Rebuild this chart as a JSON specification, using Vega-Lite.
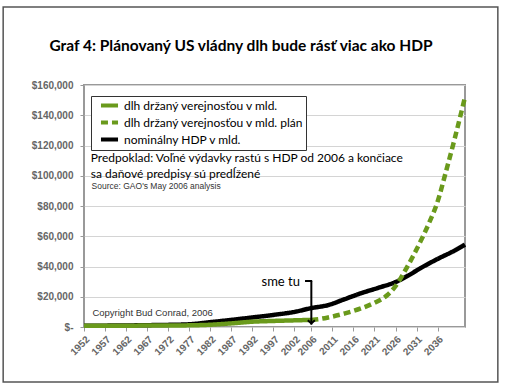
{
  "$schema": "https://vega.github.io/schema/vega-lite/v6.json",
  "width": 381,
  "height": 242,
  "autosize": {"type": "none"},
  "padding": {"left": 84, "top": 85, "right": 41, "bottom": 58},
  "background": "white",
  "datasets": {
    "lines": [
      {"series": "nominálny HDP v mld.", "year": 1952, "value": 800},
      {"series": "nominálny HDP v mld.", "year": 1957, "value": 900},
      {"series": "nominálny HDP v mld.", "year": 1962, "value": 1000},
      {"series": "nominálny HDP v mld.", "year": 1967, "value": 1200},
      {"series": "nominálny HDP v mld.", "year": 1972, "value": 1400},
      {"series": "nominálny HDP v mld.", "year": 1977, "value": 1800},
      {"series": "nominálny HDP v mld.", "year": 1982, "value": 3200},
      {"series": "nominálny HDP v mld.", "year": 1987, "value": 4700},
      {"series": "nominálny HDP v mld.", "year": 1992, "value": 6300},
      {"series": "nominálny HDP v mld.", "year": 1997, "value": 8000},
      {"series": "nominálny HDP v mld.", "year": 2002, "value": 10000},
      {"series": "nominálny HDP v mld.", "year": 2006, "value": 12500},
      {"series": "nominálny HDP v mld.", "year": 2010, "value": 14500},
      {"series": "nominálny HDP v mld.", "year": 2014, "value": 18500},
      {"series": "nominálny HDP v mld.", "year": 2018, "value": 22500},
      {"series": "nominálny HDP v mld.", "year": 2022, "value": 26000},
      {"series": "nominálny HDP v mld.", "year": 2026, "value": 29700},
      {"series": "nominálny HDP v mld.", "year": 2029, "value": 34000},
      {"series": "nominálny HDP v mld.", "year": 2032, "value": 39000},
      {"series": "nominálny HDP v mld.", "year": 2036, "value": 45000},
      {"series": "nominálny HDP v mld.", "year": 2040, "value": 50500},
      {"series": "nominálny HDP v mld.", "year": 2042.5, "value": 54500},
      {"series": "dlh držaný verejnosťou v mld.", "year": 1952, "value": 900},
      {"series": "dlh držaný verejnosťou v mld.", "year": 1962, "value": 900},
      {"series": "dlh držaný verejnosťou v mld.", "year": 1972, "value": 1000},
      {"series": "dlh držaný verejnosťou v mld.", "year": 1977, "value": 1100},
      {"series": "dlh držaný verejnosťou v mld.", "year": 1982, "value": 1500},
      {"series": "dlh držaný verejnosťou v mld.", "year": 1987, "value": 2400},
      {"series": "dlh držaný verejnosťou v mld.", "year": 1992, "value": 3500},
      {"series": "dlh držaný verejnosťou v mld.", "year": 1997, "value": 4000},
      {"series": "dlh držaný verejnosťou v mld.", "year": 2002, "value": 4400},
      {"series": "dlh držaný verejnosťou v mld.", "year": 2006, "value": 4700},
      {"series": "dlh držaný verejnosťou v mld. plán", "year": 2006, "value": 4700},
      {"series": "dlh držaný verejnosťou v mld. plán", "year": 2008, "value": 5300},
      {"series": "dlh držaný verejnosťou v mld. plán", "year": 2010, "value": 6300},
      {"series": "dlh držaný verejnosťou v mld. plán", "year": 2014, "value": 9000},
      {"series": "dlh držaný verejnosťou v mld. plán", "year": 2018, "value": 12500},
      {"series": "dlh držaný verejnosťou v mld. plán", "year": 2021, "value": 16000},
      {"series": "dlh držaný verejnosťou v mld. plán", "year": 2024, "value": 21000},
      {"series": "dlh držaný verejnosťou v mld. plán", "year": 2026, "value": 27000},
      {"series": "dlh držaný verejnosťou v mld. plán", "year": 2028, "value": 36000},
      {"series": "dlh držaný verejnosťou v mld. plán", "year": 2030, "value": 46000},
      {"series": "dlh držaný verejnosťou v mld. plán", "year": 2032, "value": 57000},
      {"series": "dlh držaný verejnosťou v mld. plán", "year": 2034, "value": 69000},
      {"series": "dlh držaný verejnosťou v mld. plán", "year": 2036, "value": 83000},
      {"series": "dlh držaný verejnosťou v mld. plán", "year": 2038, "value": 103000},
      {"series": "dlh držaný verejnosťou v mld. plán", "year": 2040, "value": 124000},
      {"series": "dlh držaný verejnosťou v mld. plán", "year": 2042.5, "value": 152000}
    ]
  },
  "encoding": {
    "x": {
      "field": "year",
      "type": "quantitative",
      "scale": {"domain": [1952, 2042.5], "nice": false, "zero": false},
      "axis": {
        "title": null,
        "values": [1952, 1957, 1962, 1967, 1972, 1977, 1982, 1987, 1992, 1997, 2002, 2006, 2011, 2016, 2021, 2026, 2031, 2036],
        "format": "d",
        "labelAngle": -45,
        "labelOverlap": false,
        "labelBound": false,
        "labelFlush": false,
        "grid": false,
        "domain": false,
        "tickSize": 4,
        "tickColor": "#999",
        "labelFont": "Liberation Sans",
        "labelFontWeight": "bold",
        "labelFontSize": 10,
        "labelColor": "#666",
        "labelPadding": 3
      }
    },
    "y": {
      "field": "value",
      "type": "quantitative",
      "scale": {"domain": [0, 160000], "nice": false},
      "axis": {
        "title": null,
        "values": [0, 20000, 40000, 60000, 80000, 100000, 120000, 140000, 160000],
        "labelExpr": "datum.value == 0 ? '$-' : '$' + format(datum.value, ',')",
        "grid": true,
        "gridColor": "#d4d4d4",
        "gridWidth": 1.2,
        "domain": false,
        "tickSize": 4,
        "tickColor": "#999",
        "labelFont": "Liberation Sans",
        "labelFontWeight": "bold",
        "labelFontSize": 10,
        "labelColor": "#666",
        "labelPadding": 7
      }
    }
  },
  "layer": [
    {
      "data": {"values": [{"x1": 1932.8, "x2": 2050.3, "y1": 211600, "y2": -36400}]},
      "mark": {"type": "rect", "fill": "transparent", "stroke": "#555", "strokeWidth": 1.5, "clip": false},
      "encoding": {
        "x": {"field": "x1", "type": "quantitative"},
        "x2": {"field": "x2"},
        "y": {"field": "y1", "type": "quantitative"},
        "y2": {"field": "y2"}
      }
    },
    {
      "data": {"values": [{"x": 1989.3, "y": 186000, "label": "Graf 4: Plánovaný US vládny dlh bude rásť viac ako HDP"}]},
      "mark": {"type": "text", "font": "Lato", "fontSize": 15.5, "fontWeight": "bold", "align": "center", "baseline": "middle", "color": "black"},
      "encoding": {
        "x": {"field": "x", "type": "quantitative"},
        "y": {"field": "y", "type": "quantitative"},
        "text": {"field": "label"}
      }
    },
    {
      "data": {"name": "lines"},
      "transform": [{"filter": "datum.series == 'nominálny HDP v mld.'"}],
      "mark": {"type": "line", "strokeWidth": 4.5, "interpolate": "monotone"},
      "encoding": {
        "color": {
          "field": "series",
          "type": "nominal",
          "scale": {
            "domain": ["dlh držaný verejnosťou v mld.", "dlh držaný verejnosťou v mld. plán", "nominálny HDP v mld."],
            "range": ["#6a9a1c", "#6a9a1c", "#000000"]
          },
          "legend": {
            "title": null,
            "orient": "none",
            "legendX": 7,
            "legendY": 11,
            "direction": "vertical",
            "symbolType": "M -1.55 0 L 1.55 0",
            "symbolSize": 121,
            "symbolStrokeWidth": 4,
            "symbolOffset": 9,
            "labelFont": "Lato",
            "labelFontSize": 12,
            "labelColor": "black",
            "labelLimit": 300,
            "labelOffset": 7,
            "rowPadding": 0,
            "padding": 2,
            "strokeColor": "#333",
            "fillColor": "white"
          }
        },
        "strokeDash": {
          "field": "series",
          "type": "nominal",
          "scale": {
            "domain": ["dlh držaný verejnosťou v mld.", "dlh držaný verejnosťou v mld. plán", "nominálny HDP v mld."],
            "range": [[1, 0], [7, 4], [1, 0]]
          },
          "legend": {
            "title": null,
            "orient": "none",
            "legendX": 7,
            "legendY": 11,
            "direction": "vertical",
            "symbolType": "M -1.55 0 L 1.55 0",
            "symbolSize": 121,
            "symbolStrokeWidth": 4,
            "symbolOffset": 9,
            "labelFont": "Lato",
            "labelFontSize": 12,
            "labelColor": "black",
            "labelLimit": 300,
            "labelOffset": 7,
            "rowPadding": 0,
            "padding": 2,
            "strokeColor": "#333",
            "fillColor": "white"
          }
        }
      }
    },
    {
      "data": {"name": "lines"},
      "transform": [{"filter": "datum.series != 'nominálny HDP v mld.'"}],
      "mark": {"type": "line", "strokeWidth": 4.5, "interpolate": "monotone"},
      "encoding": {
        "color": {"field": "series", "type": "nominal"},
        "strokeDash": {"field": "series", "type": "nominal"}
      }
    },
    {
      "data": {"values": [
        {"x1": 2006, "x2": 2006, "y1": 30400, "y2": 1600},
        {"x1": 2004.5, "x2": 2006.2, "y1": 30400, "y2": 30400}
      ]},
      "mark": {"type": "rule", "color": "black", "strokeWidth": 2},
      "encoding": {
        "x": {"field": "x1", "type": "quantitative"},
        "x2": {"field": "x2"},
        "y": {"field": "y1", "type": "quantitative"},
        "y2": {"field": "y2"}
      }
    },
    {
      "data": {"values": [{"x": 2006, "y": 2300}]},
      "mark": {"type": "point", "shape": "M -1 -0.9 L 0 0 L 1 -0.9", "filled": false, "stroke": "black", "strokeWidth": 2, "size": 50, "opacity": 1},
      "encoding": {
        "x": {"field": "x", "type": "quantitative"},
        "y": {"field": "y", "type": "quantitative"}
      }
    },
    {
      "data": {"values": [{"x": 2003.3, "y": 29800, "label": "sme tu"}]},
      "mark": {"type": "text", "font": "Lato", "fontSize": 13, "align": "right", "baseline": "middle", "color": "black"},
      "encoding": {
        "x": {"field": "x", "type": "quantitative"},
        "y": {"field": "y", "type": "quantitative"},
        "text": {"field": "label"}
      }
    },
    {
      "data": {"values": [
        {"x": 1953.6, "y": 111700, "label": "Predpoklad: Voľné výdavky rastú s HDP od 2006 a končiace"},
        {"x": 1953.6, "y": 101200, "label": "sa daňové predpisy sú predĺžené"}
      ]},
      "mark": {"type": "text", "font": "Lato", "fontSize": 12, "align": "left", "baseline": "middle", "color": "black"},
      "encoding": {
        "x": {"field": "x", "type": "quantitative"},
        "y": {"field": "y", "type": "quantitative"},
        "text": {"field": "label"}
      }
    },
    {
      "data": {"values": [{"x": 1953.8, "y": 93000, "label": "Source: GAO's May 2006 analysis"}]},
      "mark": {"type": "text", "font": "Liberation Sans", "fontSize": 8.5, "align": "left", "baseline": "middle", "color": "#333"},
      "encoding": {
        "x": {"field": "x", "type": "quantitative"},
        "y": {"field": "y", "type": "quantitative"},
        "text": {"field": "label"}
      }
    },
    {
      "data": {"values": [{"x": 1954.0, "y": 9300, "label": "Copyright Bud Conrad, 2006"}]},
      "mark": {"type": "text", "font": "Liberation Sans", "fontSize": 9.5, "align": "left", "baseline": "middle", "color": "#333"},
      "encoding": {
        "x": {"field": "x", "type": "quantitative"},
        "y": {"field": "y", "type": "quantitative"},
        "text": {"field": "label"}
      }
    }
  ],
  "config": {
    "view": {"stroke": "#999", "strokeWidth": 2}
  }
}
